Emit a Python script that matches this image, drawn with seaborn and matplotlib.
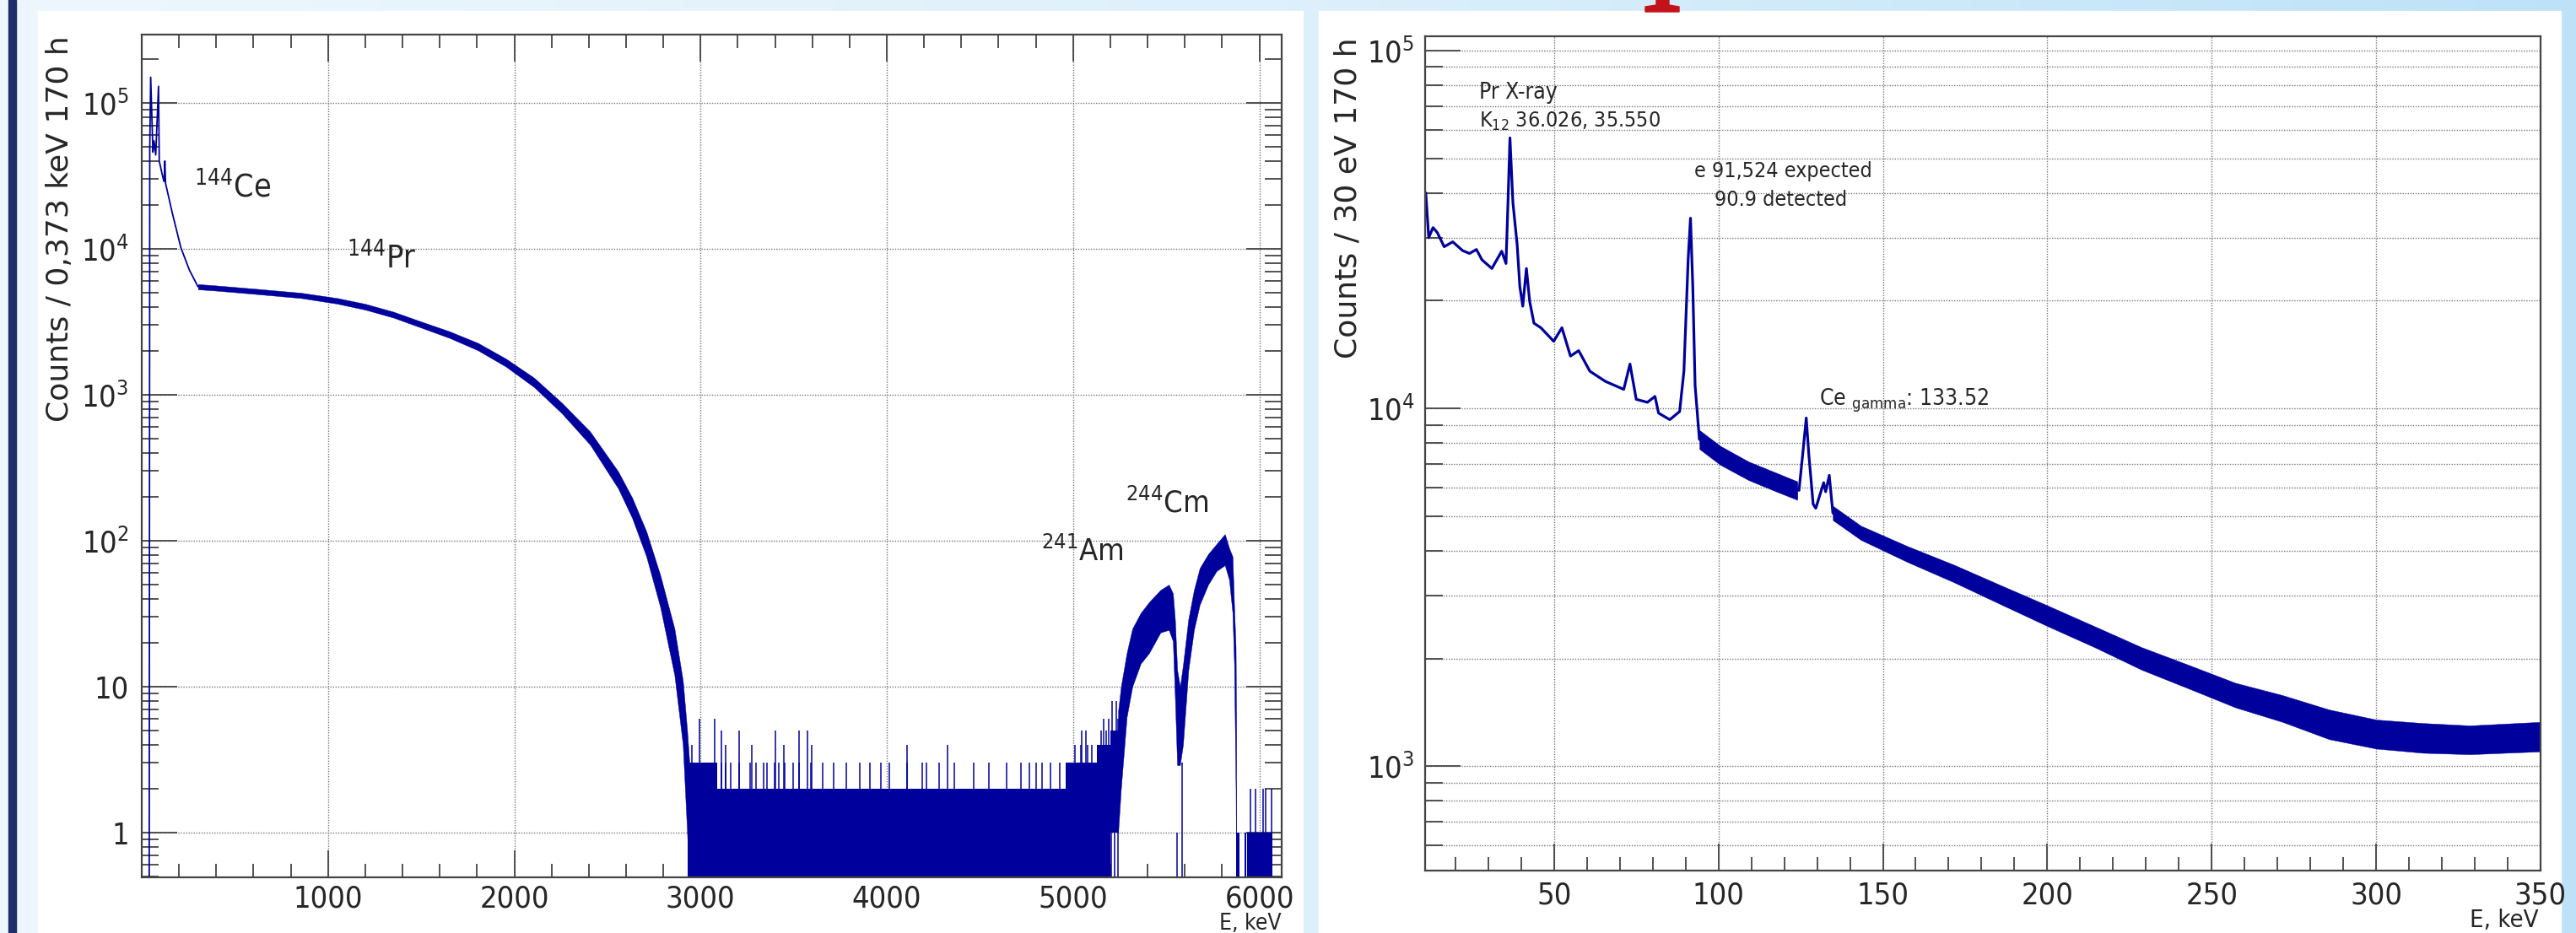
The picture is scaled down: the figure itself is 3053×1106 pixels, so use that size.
import numpy as np
import matplotlib
matplotlib.use('Agg')
import matplotlib.pyplot as plt
import matplotlib.ticker as mticker
from matplotlib.colors import LinearSegmentedColormap
from matplotlib.patches import Rectangle, Polygon
import seaborn as sns

sns.set_style('white')
plt.rcParams['font.family'] = ['Liberation Sans Narrow', 'DejaVu Sans']
plt.rcParams['font.stretch'] = 'condensed'

BLUE = '#00009c'
GRID = '#777777'
FRAME = '#444444'

# ---------------- left spectrum: 144Ce/144Pr source, E in keV ----------------
CE_E = [40, 43, 48, 60, 66, 75, 90, 94, 113, 120, 124, 128, 131, 165, 210, 255, 302]
CE_CNT = [0.4, 4.8e4, 1.5e5, 4.6e4, 5.5e4, 4.4e4, 1.3e5, 4.0e4, 3.1e4, 2.9e4,
          4.0e4, 2.8e4, 2.7e4, 1.74e4, 1.02e4, 7.2e3, 5.5e3]

PR_E = [302, 394, 625, 856, 1050, 1200, 1351, 1502, 1653, 1804, 1955, 2106, 2256,
        2407, 2558, 2633, 2709, 2784, 2860, 2905, 2928, 2940]
PR_LOW = [5280, 5180, 4890, 4600, 4210, 3830, 3380, 2880, 2450, 2020, 1560, 1130, 745,
          455, 228, 143, 78, 35, 12, 4, 1, 0.4]
PR_HIGH = [5730, 5620, 5310, 5000, 4600, 4200, 3710, 3170, 2720, 2270, 1770, 1310, 880,
           560, 298, 197, 116, 58, 25, 11, 5, 3]

# low-count region (histogram outline looks filled)
LOW_E = [2930, 3090, 4960, 5130, 5200, 5245]
LOW_BOT = [0.4, 0.4, 0.4, 0.4, 1, 1]
LOW_TOP = [3, 2, 3, 4, 5, 5]
SPIKE3_E = [3110, 3137, 3160, 3206, 3265, 3299, 3340, 3356, 3396, 3420, 3450, 3495,
            3530, 3594, 3657, 3714, 3784, 3853, 3911, 3968, 4015, 4107, 4188, 4211,
            4280, 4361, 4465, 4546, 4643, 4719, 4765, 4800, 4834, 4880, 4927]
SPIKE4_E = [2952, 3137, 3276, 3449, 3599, 4107, 4326, 5010, 5040, 5080, 5100]
SPIKE5_E = [3114, 3206, 3403, 3530, 3576, 5045, 5070, 5150, 5180]
SPIKE6_E = [2994, 3075, 5166, 5190, 5240]
SPIKE8_E = [5210, 5230]
STRIPE_E = [5062, 5075, 5090, 5104, 5118, 5135, 5150, 5170, 5188, 5205, 5222]

# 241Am / 244Cm alpha region
AM_E = [5242, 5257, 5288, 5318, 5363, 5408, 5469, 5514, 5536, 5547, 5559, 5574,
        5590, 5619, 5649, 5680, 5725, 5770, 5815, 5838, 5856, 5865, 5873, 5876]
AM_LOW = [1, 2, 6.2, 10, 14.4, 17, 23.5, 24.5, 20.5, 8.5, 2.9, 2.9,
          4, 13, 24.5, 36.5, 50, 62, 68, 54, 32, 14, 2, 0.4]
AM_HIGH = [6.8, 10, 17, 25, 32, 38, 46, 50, 43.6, 29, 13, 10,
           14, 29, 46, 65, 81, 95, 111, 89, 78, 35, 18.7, 5]
AM_DIP_E = [5560, 5586]
AM_DIP_CNT = [1, 3]

TAIL_E = [5876, 5894, 5921, 5930, 5936, 6072]
TAIL_TOP = [1, 0.4, 1, 0.4, 1, 1]
TAIL_SPIKE2_E = [5954, 5978, 6019, 6034, 6064]

# ---------------- right spectrum: low-energy part, E in keV ----------------
R_E = [11.0, 11.9, 13.2, 14.5, 16.6, 19.2, 22.2, 24.3, 26.4, 28.1, 31.1, 34.1,
       35.4, 36.0, 36.6, 37.5, 38.8, 39.6, 40.5, 41.6, 42.6, 43.9, 46.0, 49.9,
       52.4, 55.0, 57.5, 60.9, 65.6, 71.2, 73.1, 75.0, 78.4, 80.7, 81.8, 85.2,
       88.2, 89.5, 90.8, 91.5, 92.2, 92.9, 94.2, 100.6, 109.2, 117.7, 124.5,
       125.6, 126.7, 127.5, 128.8, 129.6, 132.0, 132.6, 133.7, 134.8, 143.3,
       157.5, 171.8, 186, 200.2, 214.4, 228.7, 242.9, 257.2, 271.5, 285.7, 300,
       314.2, 328.5, 350]
R_CNT = [4.0e4, 3.0e4, 3.2e4, 3.1e4, 2.83e4, 2.92e4, 2.76e4, 2.71e4, 2.78e4, 2.6e4,
         2.46e4, 2.75e4, 2.54e4, 3.76e4, 5.7e4, 3.76e4, 2.86e4, 2.19e4, 1.93e4,
         2.46e4, 1.99e4, 1.73e4, 1.68e4, 1.54e4, 1.68e4, 1.40e4, 1.45e4, 1.27e4,
         1.19e4, 1.13e4, 1.33e4, 1.06e4, 1.04e4, 1.08e4, 9.7e3, 9.3e3, 9.8e3,
         1.27e4, 2.62e4, 3.4e4, 2.19e4, 1.16e4, 8.2e3, 7.4e3, 6.7e3, 6.2e3, 5.9e3,
         7.4e3, 9.4e3, 7.4e3, 5.4e3, 5.26e3, 6.2e3, 5.85e3, 6.5e3, 5.1e3, 4.49e3,
         3.92e3, 3.45e3, 3.01e3, 2.63e3, 2.30e3, 2.0e3, 1.78e3, 1.58e3, 1.45e3,
         1.31e3, 1.23e3, 1.20e3, 1.19e3, 1.21e3]

RB1_E = [94.2, 100.6, 109.2, 117.7, 124.0]
RB1_LOW = [7.7e3, 6.95e3, 6.3e3, 5.85e3, 5.55e3]
RB1_HIGH = [8.7e3, 7.85e3, 7.1e3, 6.6e3, 6.25e3]
RB2_E = [134.8, 143.3, 157.5, 171.8, 186, 200.2, 214.4, 228.7, 242.9, 257.2, 271.5,
         285.7, 300, 314.2, 328.5, 350]
RB2_LOW = [4.87e3, 4.29e3, 3.72e3, 3.26e3, 2.83e3, 2.46e3, 2.15e3, 1.86e3, 1.65e3,
           1.46e3, 1.33e3, 1.19e3, 1.12e3, 1.09e3, 1.08e3, 1.10e3]
RB2_HIGH = [5.34e3, 4.70e3, 4.12e3, 3.65e3, 3.20e3, 2.81e3, 2.46e3, 2.15e3, 1.92e3,
            1.71e3, 1.58e3, 1.44e3, 1.35e3, 1.32e3, 1.30e3, 1.33e3]

L_XTICKS = [1000, 2000, 3000, 4000, 5000, 6000]
L_YTICKS = [1, 10, 1e2, 1e3, 1e4, 1e5]
L_YLABELS = ['1', '10', r'$\mathdefault{10^{2}}$', r'$\mathdefault{10^{3}}$',
             r'$\mathdefault{10^{4}}$', r'$\mathdefault{10^{5}}$']
R_XTICKS = [50, 100, 150, 200, 250, 300, 350]
R_YTICKS = [1e3, 1e4, 1e5]
R_YLABELS = [r'$\mathdefault{10^{3}}$', r'$\mathdefault{10^{4}}$', r'$\mathdefault{10^{5}}$']

# ---------------- figure / page background ----------------
W, H = 3053, 1106
fig = plt.figure(figsize=(W / 100, H / 100), dpi=100)

bg = fig.add_axes([0, 0, 1, 1], zorder=-10)
bg.set_xlim(0, W)
bg.set_ylim(H, 0)
bg.axis('off')
cmap = LinearSegmentedColormap.from_list('bgc', ['#eef7fd', '#ddf0fb', '#bde2f8'])
bg.imshow(np.linspace(0, 1, 256)[None, :], cmap=cmap, aspect='auto',
          extent=[0, W, H, 0], zorder=0)
bg.add_patch(Rectangle((10, 0), 9, H, color='#1f2d6b', zorder=1))
bg.add_patch(Rectangle((45, 13), 1544 - 45, H, color='white', zorder=1))
bg.add_patch(Rectangle((1563, 13), 3035 - 1563, H, color='white', zorder=1))
bg.add_patch(Polygon([(1963, 0), (1978, 0), (1978, 6), (1990, 8), (1990, 14),
                      (1950, 14), (1950, 8), (1963, 6)], closed=True,
                     color='#c3121c', zorder=2))

bg.text(71, 42, 'Counts / 0,373 keV 170 h', rotation=90, ha='center', va='top',
        fontsize=26, family='DejaVu Sans', stretch='normal')
bg.text(1598, 44, 'Counts / 30 eV 170 h', rotation=90, ha='center', va='top',
        fontsize=26, family='DejaVu Sans', stretch='normal')
bg.text(1519, 1102, 'E, keV', ha='right', va='baseline', fontsize=19)
bg.text(3009, 1099, 'E, keV', ha='right', va='baseline', fontsize=21)

axL = fig.add_axes([168 / W, 1 - 1040 / H, (1519 - 168) / W, (1040 - 41) / H])
axR = fig.add_axes([1689 / W, 1 - 1032 / H, (3011 - 1689) / W, (1032 - 43) / H])

# ---------------- left panel ----------------
axL.set_yscale('log')
sns.lineplot(x=CE_E, y=CE_CNT, ax=axL, color=BLUE, lw=1.3, sort=False, estimator=None)
axL.fill_between(PR_E, PR_LOW, PR_HIGH, color=BLUE, lw=0.3)
axL.fill_between(LOW_E, LOW_BOT, LOW_TOP, step='post', color=BLUE, lw=0)
axL.vlines(SPIKE3_E, 0.4, 3, color=BLUE, lw=1.1)
axL.vlines(SPIKE4_E, 0.4, 4, color=BLUE, lw=1.1)
axL.vlines(SPIKE5_E, 0.4, 5, color=BLUE, lw=1.1)
axL.vlines(SPIKE6_E, 0.4, 6, color=BLUE, lw=1.1)
axL.vlines(SPIKE8_E, 1, 8, color=BLUE, lw=1.1)
axL.vlines(STRIPE_E, 0.4, 1, color=BLUE, lw=1.1)
axL.fill_between(AM_E, AM_LOW, AM_HIGH, color=BLUE, lw=0.3)
axL.vlines(AM_DIP_E, 0.4, AM_DIP_CNT, color=BLUE, lw=1.1)
axL.fill_between(TAIL_E, 0.4, TAIL_TOP, step='post', color=BLUE, lw=0)
axL.vlines(TAIL_SPIKE2_E, 0.4, 2, color=BLUE, lw=1.1)

axL.set_xlim(0, 6120)
axL.set_ylim(0.494, 2.94e5)
axL.set_xticks(L_XTICKS, [str(v) for v in L_XTICKS])
axL.xaxis.set_minor_locator(mticker.MultipleLocator(200))
axL.set_yticks(L_YTICKS, L_YLABELS)
axL.yaxis.set_minor_locator(mticker.LogLocator(base=10, subs=np.arange(2, 10), numticks=20))
axL.yaxis.set_minor_formatter(mticker.NullFormatter())
axL.tick_params(which='both', direction='in', bottom=True, left=True, top=True, right=True,
                labeltop=False, labelright=False, color=FRAME, width=1.3, labelsize=26)
axL.tick_params(axis='x', which='major', length=23, pad=6)
axL.tick_params(axis='x', which='minor', length=11.5)
axL.tick_params(axis='y', which='major', length=30, pad=11)
axL.tick_params(axis='y', which='minor', length=14.5)
axL.grid(which='major', axis='both', ls=(0, (1, 1.2)), color=GRID, lw=1.0)

axL.text(280, 2.28e4, r'$\mathdefault{^{144}Ce}$', fontsize=27, va='baseline')
axL.text(1100, 7.4e3, r'$\mathdefault{^{144}Pr}$', fontsize=27, va='baseline')
axL.text(4828, 72.6, r'$\mathdefault{^{241}Am}$', fontsize=26, va='baseline')
axL.text(5281, 157, r'$\mathdefault{^{244}Cm}$', fontsize=26, va='baseline')

# ---------------- right panel ----------------
axR.set_yscale('log')
sns.lineplot(x=R_E, y=R_CNT, ax=axR, color=BLUE, lw=2.3, sort=False, estimator=None)
axR.fill_between(RB1_E, RB1_LOW, RB1_HIGH, color=BLUE, lw=0.3)
axR.fill_between(RB2_E, RB2_LOW, RB2_HIGH, color=BLUE, lw=0.3)

axR.set_xlim(10.8, 350)
axR.set_ylim(511, 1.096e5)
axR.set_xticks(R_XTICKS, [str(v) for v in R_XTICKS])
axR.xaxis.set_minor_locator(mticker.MultipleLocator(10))
axR.set_yticks(R_YTICKS, R_YLABELS)
axR.yaxis.set_minor_locator(mticker.LogLocator(base=10, subs=np.arange(2, 10), numticks=20))
axR.yaxis.set_minor_formatter(mticker.NullFormatter())
axR.tick_params(which='both', direction='in', bottom=True, left=True, top=False, right=False,
                color=FRAME, width=1.3, labelsize=26)
axR.tick_params(axis='x', which='major', length=23, pad=9)
axR.tick_params(axis='x', which='minor', length=11.5)
axR.tick_params(axis='y', which='major', length=30, pad=9)
axR.tick_params(axis='y', which='minor', length=15)
axR.grid(which='both', axis='y', ls=(0, (1, 1.2)), color=GRID, lw=1.0)
axR.grid(which='major', axis='x', ls=(0, (1, 1.2)), color=GRID, lw=1.0)

axR.text(27.2, 7.35e4, 'Pr X-ray', fontsize=19, va='baseline')
axR.text(27.2, 6.1e4, r'$\mathdefault{K_{12}}$ 36.026, 35.550', fontsize=18, va='baseline')
axR.text(92.6, 4.43e4, 'e 91,524 expected', fontsize=18, va='baseline')
axR.text(98.8, 3.68e4, '90.9 detected', fontsize=18, va='baseline')
axR.text(130.5, 1.02e4, r'Ce $\mathdefault{_{gamma}}$: 133.52', fontsize=19, va='baseline')

for ax in (axL, axR):
    ax.set_xlabel('')
    ax.set_ylabel('')
    ax.set_facecolor('white')
    for sp in ax.spines.values():
        sp.set_visible(True)
        sp.set_color(FRAME)
        sp.set_linewidth(1.6)

fig.savefig('out.png', dpi=100)
